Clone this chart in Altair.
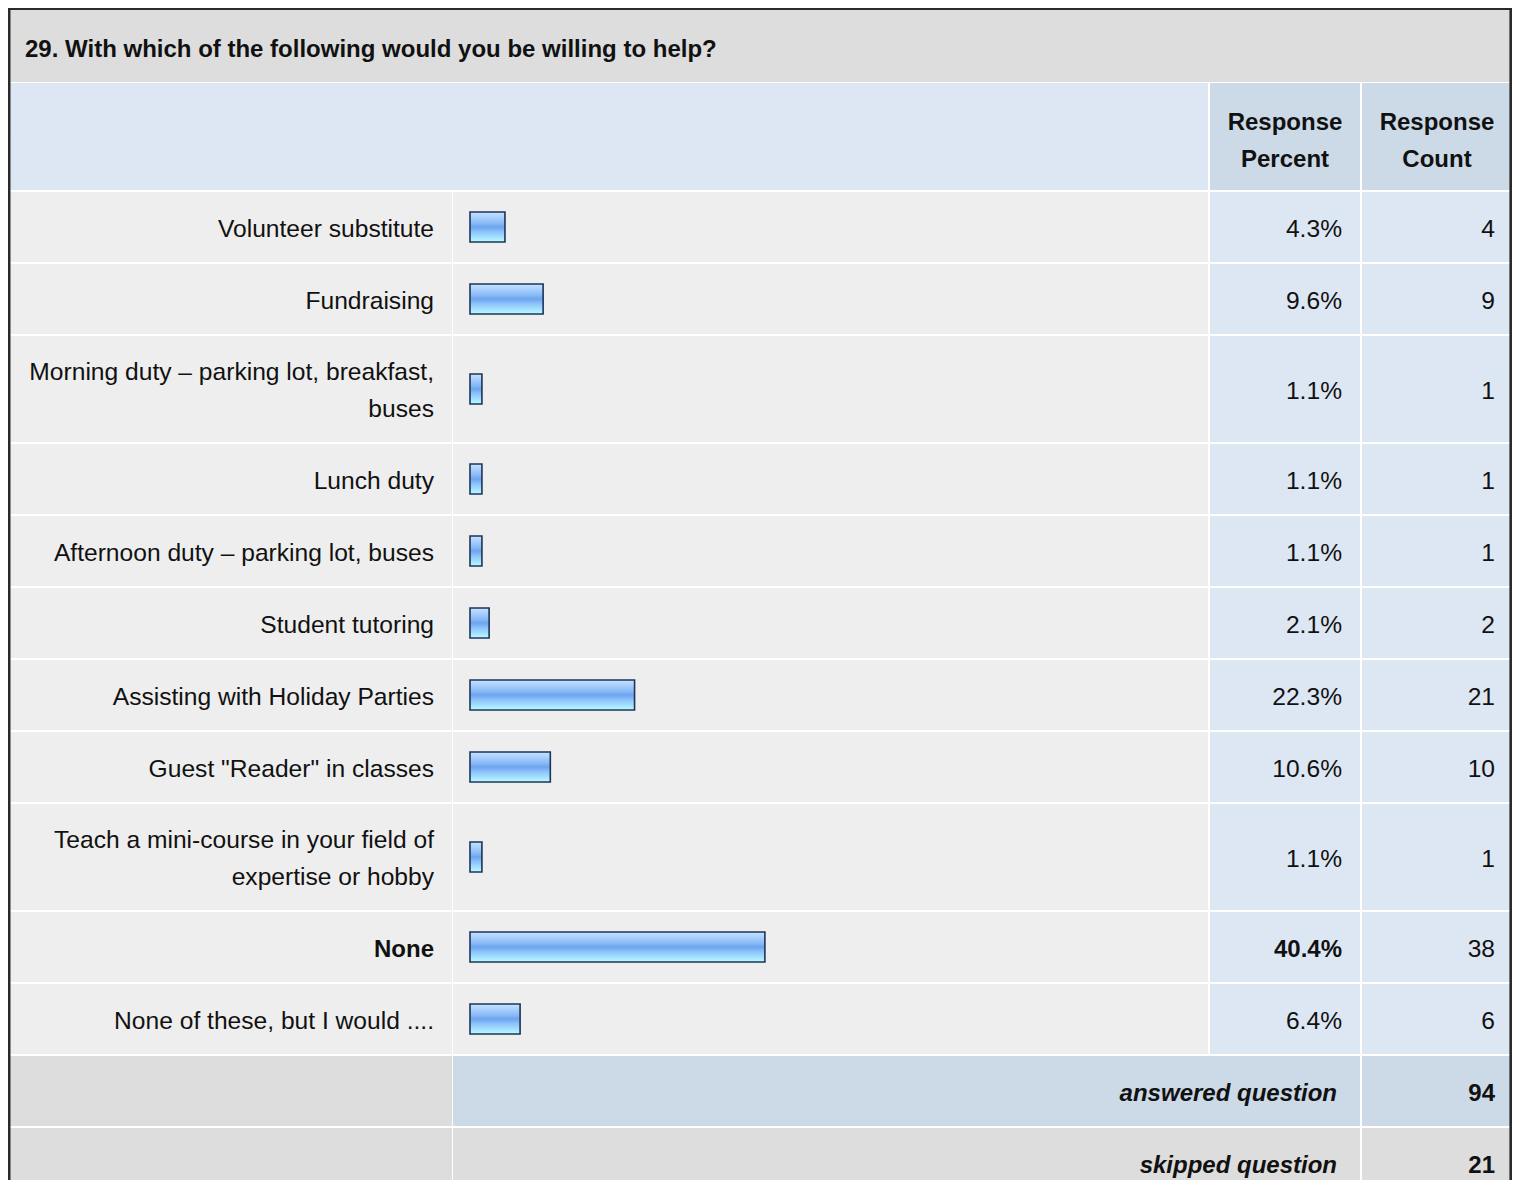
import altair as alt
import pandas as pd

# ---------------- data ----------------
question = "29. With which of the following would you be willing to help?"
col_headers = ["Response\nPercent", "Response\nCount"]
categories = [
    "Volunteer substitute",
    "Fundraising",
    "Morning duty \u2013 parking lot, breakfast,\nbuses",
    "Lunch duty",
    "Afternoon duty \u2013 parking lot, buses",
    "Student tutoring",
    "Assisting with Holiday Parties",
    'Guest "Reader" in classes',
    "Teach a mini-course in your field of\nexpertise or hobby",
    "None",
    "None of these, but I would ....",
]
percents = [4.3, 9.6, 1.1, 1.1, 1.1, 2.1, 22.3, 10.6, 1.1, 40.4, 6.4]
counts = [4, 9, 1, 1, 1, 2, 21, 10, 1, 38, 6]
summary_labels = ["answered question", "skipped question"]
summary_values = [94, 21]

# ---------------- layout / style ----------------
FONT = "Liberation Sans, Arial, Helvetica, sans-serif"
OX, OY = 8, 8          # page offset of the chart
W, H = 1504, 1172
COL_LABEL = (8, 451)
COL_BAR = (453, 1207)
COL_PCT = (1210, 1359)
COL_CNT = (1362, 1514)
TITLE_Y = (10, 81)
HEAD_Y = (83, 189)
FIRST_LINE = 190
SINGLE_H, DOUBLE_H = 72, 108
LINE_H = 37
TXT_DY = 2.0           # text vertical nudge
FS = 24.6
FSB = 24

C_TITLE = "#dddddd"
C_HEAD = "#dde7f4"
C_HEAD_DARK = "#ccd9e6"
C_ROW = "#eeeeee"
C_ROW_BLUE = "#dde7f4"
C_FOOT = "#dddddd"
C_FOOT_BLUE = "#ccd9e6"

cells = []


def cell(x0, x1, y0, y1, fill):
    cells.append(dict(x0=x0 - OX, x1=x1 + 1 - OX, y0=y0 - OY, y1=y1 + 1 - OY, fill=fill))


def px(x):
    return x - OX


def py(y):
    return y - OY


def first_line_y(center, text):
    n = text.count("\n") + 1
    return center - (n - 1) * LINE_H / 2


# title + header
cell(COL_LABEL[0], COL_CNT[1], TITLE_Y[0], TITLE_Y[1], C_TITLE)
cell(COL_LABEL[0], COL_BAR[1], HEAD_Y[0], HEAD_Y[1], C_HEAD)
cell(COL_PCT[0], COL_PCT[1], HEAD_Y[0], HEAD_Y[1], C_HEAD_DARK)
cell(COL_CNT[0], COL_CNT[1], HEAD_Y[0], HEAD_Y[1], C_HEAD_DARK)

rows = []
t = FIRST_LINE
pmax = max(percents)
for cat, p, c in zip(categories, percents, counts):
    h = DOUBLE_H if "\n" in cat else SINGLE_H
    y0, y1 = t + 2, t + h - 1
    cell(COL_LABEL[0], COL_LABEL[1], y0, y1, C_ROW)
    cell(COL_BAR[0], COL_BAR[1], y0, y1, C_ROW)
    cell(COL_PCT[0], COL_PCT[1], y0, y1, C_ROW_BLUE)
    cell(COL_CNT[0], COL_CNT[1], y0, y1, C_ROW_BLUE)
    yc = (t + 2 + t + h) / 2
    ty = yc + 0.5 + TXT_DY
    rows.append(dict(label=cat, pct=p, pct_txt=f"{p:.1f}%", cnt=str(c),
                     yc=py(ty), yl=py(first_line_y(ty, cat)),
                     b0=py(yc - 15), b1=py(yc + 15),
                     bold=(p == pmax)))
    t += h

foot = []
for i, (lab, v) in enumerate(zip(summary_labels, summary_values)):
    y0, y1 = t + 2, t + SINGLE_H - 1
    mid = C_FOOT_BLUE if i == 0 else C_FOOT
    cell(COL_LABEL[0], COL_LABEL[1], y0, y1, C_FOOT)
    cell(COL_BAR[0], COL_PCT[1], y0, y1, mid)
    cell(COL_CNT[0], COL_CNT[1], y0, y1, mid)
    foot.append(dict(label=lab, val=str(v),
                     yc=py((t + 2 + t + SINGLE_H) / 2 + 0.5 + TXT_DY)))
    t += SINGLE_H

cells_df = pd.DataFrame(cells)
rows_df = pd.DataFrame(rows)
foot_df = pd.DataFrame(foot)

X = lambda f: alt.X(f, scale=None, axis=None)
Y = lambda f: alt.Y(f, scale=None, axis=None)

bg = alt.Chart(cells_df).mark_rect().encode(
    x=X("x0:Q"), x2="x1:Q", y=Y("y0:Q"), y2="y1:Q",
    color=alt.Color("fill:N", scale=None),
)

border_df = pd.DataFrame([dict(x0=1.2, x1=W - 1.3, y0=0.8, y1=H + 20)])
border = alt.Chart(border_df).mark_rect(
    fillOpacity=0, stroke="#2a2a2a", strokeWidth=2.6
).encode(x=X("x0:Q"), x2="x1:Q", y=Y("y0:Q"), y2="y1:Q")

bar_scale = alt.Scale(domain=[0, 100], range=[466, 1186])
grad = alt.Gradient(
    gradient="linear", x1=0, x2=0, y1=0, y2=1,
    stops=[
        alt.GradientStop(color="#c6e3ff", offset=0.0),
        alt.GradientStop(color="#a8cffd", offset=0.18),
        alt.GradientStop(color="#88b9f6", offset=0.38),
        alt.GradientStop(color="#6ea4ee", offset=0.5),
        alt.GradientStop(color="#8cc3fb", offset=0.66),
        alt.GradientStop(color="#a6e2ff", offset=0.85),
        alt.GradientStop(color="#b6ffff", offset=1.0),
    ],
)
shadow = alt.Chart(rows_df).mark_bar(
    color="#8496b0", xOffset=-1.2, yOffset=1.5, opacity=0.8
).encode(
    x=alt.X("pct:Q", scale=bar_scale, axis=None), x2=alt.value(462),
    y=Y("b0:Q"), y2="b1:Q",
)
bars = alt.Chart(rows_df).mark_bar(
    color=grad, stroke="#1d3557", strokeWidth=1.6
).encode(
    x=alt.X("pct:Q", scale=bar_scale, axis=None), x2=alt.value(462),
    y=Y("b0:Q"), y2="b1:Q",
)


def txt(df, xpix, field, align, bold=False, italic=False, size=FS, yfield="yc"):
    kw = dict(align=align, baseline="middle", font=FONT, fontSize=size,
              color="#111111", lineBreak="\n", lineHeight=LINE_H)
    if bold:
        kw["fontWeight"] = "bold"
    if italic:
        kw["fontStyle"] = "italic"
    return alt.Chart(df).mark_text(**kw).encode(
        x=alt.value(xpix), y=Y(f"{yfield}:Q"), text=f"{field}:N"
    )


title_df = pd.DataFrame([dict(t=question, yc=py(49.5))])
head_df = pd.DataFrame([dict(t=col_headers[0], yc=py(first_line_y(141.5, col_headers[0])))])
head2_df = pd.DataFrame([dict(t=col_headers[1], yc=py(first_line_y(141.5, col_headers[1])))])

norm = rows_df[~rows_df["bold"]]
boldr = rows_df[rows_df["bold"]]

layers = [
    bg,
    border,
    shadow,
    bars,
    txt(title_df, px(25), "t", "left", bold=True, size=FSB),
    txt(head_df, px(1285), "t", "center", bold=True, size=FSB),
    txt(head2_df, px(1437), "t", "center", bold=True, size=FSB),
    txt(norm, px(434), "label", "right", yfield="yl"),
    txt(boldr, px(434), "label", "right", bold=True, size=FSB, yfield="yl"),
    txt(norm, px(1342), "pct_txt", "right"),
    txt(boldr, px(1342), "pct_txt", "right", bold=True, size=FSB),
    txt(rows_df, px(1495), "cnt", "right"),
    txt(foot_df, px(1337), "label", "right", bold=True, italic=True, size=FSB),
    txt(foot_df, px(1495), "val", "right", bold=True, size=FSB),
]

chart = alt.layer(*layers).resolve_scale(x="independent", y="independent").properties(
    width=W, height=H, padding=0, background="white",
    autosize=alt.AutoSizeParams(type="none"),
).configure_view(stroke=None)

chart.save("out.html", embed_options={"renderer": "svg", "actions": False})
